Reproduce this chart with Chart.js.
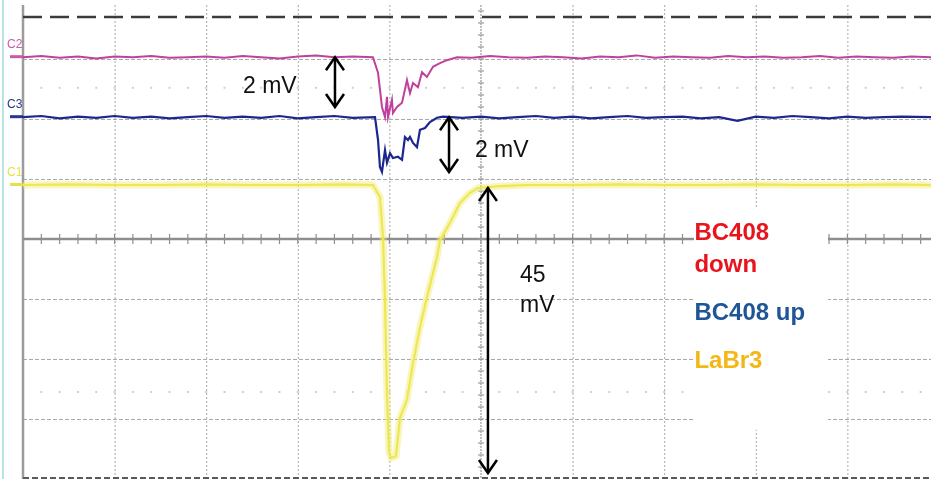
<!DOCTYPE html>
<html>
<head>
<meta charset="utf-8">
<script src="https://cdn.jsdelivr.net/npm/chart.js@4.4.0/dist/chart.umd.min.js"></script>
<style>
  html, body { margin: 0; padding: 0; background: #fff; overflow: hidden; }
  #wrap { width: 931px; height: 479px; position: relative; }
</style>
</head>
<body>
<div id="wrap"><canvas id="scope" width="931" height="479"></canvas></div>
<script>
// Values in screen divisions: x = time div (0..10), y = vertical div (centre = 0)

// C2 - BC408 down (magenta)
const c2Time = [0, 0.2, 0.4, 0.6, 0.8, 1.0, 1.2, 1.4, 1.6, 1.8, 2.0, 2.2, 2.4, 2.6, 2.8, 3.0, 3.2, 3.4, 3.6, 3.82,
  3.876, 3.919, 3.952, 3.974, 3.985, 4.028, 4.039, 4.083, 4.138, 4.192, 4.225, 4.258, 4.312, 4.356, 4.41, 4.476, 4.552, 4.629, 4.738,
  4.9, 5.1, 5.3, 5.5, 5.7, 5.9, 6.1, 6.3, 6.5, 6.7, 6.9, 7.1, 7.3, 7.5, 7.7, 7.9, 8.1, 8.3, 8.5, 8.7, 8.9, 9.1, 9.3, 9.5, 9.7, 9.92];
const c2Volt = [3.03, 3.05, 3.02, 3.04, 3.01, 3.04, 3.03, 3.05, 3.02, 3.03, 3.04, 3.02, 3.05, 3.03, 3.01, 3.04, 3.06, 3.03, 3.04, 3.03,
  2.77, 2.2, 2.03, 2.37, 2.03, 2.32, 2.1, 2.2, 2.27, 2.65, 2.43, 2.6, 2.53, 2.78, 2.7, 2.87, 2.93, 2.98, 3.03,
  3.02, 3.05, 3.03, 3.02, 3.04, 3.03, 3.01, 3.04, 3.03, 3.06, 3.02, 3.04, 3.03, 3.02, 3.05, 3.03, 3.04, 3.02, 3.03, 3.05, 3.02, 3.04, 3.03, 3.02, 3.04, 3.03];

// C3 - BC408 up (blue)
const c3Time = [0, 0.2, 0.4, 0.6, 0.8, 1.0, 1.2, 1.4, 1.6, 1.8, 2.0, 2.2, 2.4, 2.6, 2.8, 3.0, 3.2, 3.4, 3.6, 3.843,
  3.876, 3.897, 3.919, 3.952, 3.974, 4.007, 4.039, 4.094, 4.138, 4.17, 4.203, 4.225, 4.258, 4.301, 4.334, 4.389, 4.443, 4.52, 4.585,
  4.8, 5.0, 5.2, 5.4, 5.6, 5.8, 6.0, 6.2, 6.4, 6.6, 6.8, 7.0, 7.2, 7.4, 7.6, 7.8, 8.0, 8.2, 8.4, 8.6, 8.8, 9.0, 9.2, 9.4, 9.6, 9.92];
const c3Volt = [2.03, 2.05, 2.01, 2.04, 2.02, 2.05, 2.02, 2.04, 2.01, 2.03, 2.05, 2.02, 2.04, 2.02, 2.05, 2.01, 2.03, 2.05, 2.02, 2.03,
  1.65, 1.2, 1.12, 1.48, 1.27, 1.43, 1.35, 1.37, 1.32, 1.7, 1.65, 1.7, 1.6, 1.53, 1.82, 1.85, 1.95, 2.02, 2.04,
  2.02, 2.04, 2.01, 2.03, 2.05, 2.02, 2.04, 2.01, 2.03, 2.05, 2.02, 2.03, 2.04, 2.01, 2.03, 1.97, 2.04, 2.02, 2.05, 2.03, 2.01, 2.04, 2.02, 2.03, 2.04, 2.03];

// C1 - LaBr3 (yellow)
const c1Time = [0, 0.5, 1.0, 1.5, 2.0, 2.5, 3.0, 3.5, 3.82,
  3.897, 3.93, 3.952, 3.974, 3.996, 4.018, 4.072, 4.116, 4.192, 4.258, 4.334, 4.41, 4.52, 4.552, 4.662, 4.771, 4.88, 4.967,
  5.207, 5.5, 6.0, 6.5, 7.0, 7.5, 8.0, 8.5, 9.0, 9.5, 9.92];
const c1Volt = [0.9, 0.91, 0.9, 0.9, 0.91, 0.9, 0.9, 0.91, 0.9,
  0.7, 0.03, -1.0, -2.6, -3.55, -3.65, -3.62, -2.98, -2.68, -2.07, -1.47, -0.97, -0.3, -0.02, 0.27, 0.6, 0.77, 0.85,
  0.88, 0.9, 0.9, 0.91, 0.9, 0.9, 0.91, 0.9, 0.9, 0.91, 0.9];

// trigger level marker (dashed line at the top)
const trigTime = [0, 9.92];
const trigVolt = [3.7, 3.7];

const channelLabels = ["C2", "C3", "C1"];
const channelLevels = [3.03, 2.03, 0.9];
const channelColors = ["#c85aa8", "#2a3590", "#e6e04a"];

const legendLines = ["BC408", "down", "BC408 up", "LaBr3"];
const legendColors = ["#e8141c", "#e8141c", "#1f5596", "#f2b817"];

const pts = (xs, ys) => xs.map((x, i) => ({ x: x, y: ys[i] }));

// grid, centre lines and the white box behind the labels
const gridPlugin = {
  id: "scopeGrid",
  beforeDatasetsDraw(chart) {
    const { ctx, chartArea, scales } = chart;
    const X = v => scales.x.getPixelForValue(v);
    const Y = v => scales.y.getPixelForValue(v);
    ctx.save();

    // light border on the far left
    ctx.strokeStyle = "#b8e2e8";
    ctx.lineWidth = 2;
    ctx.beginPath(); ctx.moveTo(3, 0); ctx.lineTo(3, chart.height); ctx.stroke();

    // vertical dotted grid
    ctx.strokeStyle = "#a8a8a8";
    ctx.lineWidth = 1;
    ctx.setLineDash([2, 2]);
    for (let i = 1; i <= 9; i++) {
      if (i === 5) continue;
      ctx.beginPath(); ctx.moveTo(X(i) + 0.5, Y(3.9)); ctx.lineTo(X(i) + 0.5, chartArea.bottom); ctx.stroke();
    }
    // horizontal dashed grid
    ctx.setLineDash([4, 2]);
    for (const j of [-3, -2, -1, 1, 2, 3]) {
      ctx.beginPath(); ctx.moveTo(chartArea.left, Y(j) + 0.5); ctx.lineTo(chartArea.right, Y(j) + 0.5); ctx.stroke();
    }
    // faint dot rows
    ctx.setLineDash([]);
    ctx.fillStyle = "#cfcfcf";
    for (const j of [2.52, -2.55]) {
      for (let t = 0.2; t < 9.95; t += 0.2) {
        ctx.fillRect(X(t) - 1, Y(j) - 1, 2, 2);
      }
    }

    // left solid edge
    ctx.strokeStyle = "#9c9c9c";
    ctx.lineWidth = 2.5;
    ctx.beginPath(); ctx.moveTo(chartArea.left, Y(3.9)); ctx.lineTo(chartArea.left, chartArea.bottom); ctx.stroke();

    // centre horizontal axis with ticks
    ctx.strokeStyle = "#8e8e8e";
    ctx.lineWidth = 2.5;
    ctx.beginPath(); ctx.moveTo(chartArea.left, Y(0)); ctx.lineTo(chartArea.right, Y(0)); ctx.stroke();
    ctx.lineWidth = 1.2;
    for (let t = 0.2; t < 9.95; t += 0.2) {
      ctx.beginPath(); ctx.moveTo(X(t), Y(0) - 5); ctx.lineTo(X(t), Y(0) + 5); ctx.stroke();
    }
    // centre vertical axis with ticks
    ctx.strokeStyle = "#9a9a9a";
    ctx.lineWidth = 1.2;
    ctx.setLineDash([2, 1]);
    ctx.beginPath(); ctx.moveTo(X(5), Y(3.9)); ctx.lineTo(X(5), chartArea.bottom); ctx.stroke();
    ctx.setLineDash([]);
    for (let v = -3.8; v < 3.9; v += 0.2) {
      ctx.beginPath(); ctx.moveTo(X(5) - 3, Y(v)); ctx.lineTo(X(5) + 3, Y(v)); ctx.stroke();
    }

    // bottom edge
    ctx.strokeStyle = "#5a5a5a";
    ctx.lineWidth = 2;
    ctx.setLineDash([6, 3]);
    ctx.beginPath(); ctx.moveTo(chartArea.left, chartArea.bottom - 1); ctx.lineTo(chartArea.right, chartArea.bottom - 1); ctx.stroke();
    ctx.setLineDash([]);

    // white box behind the labels
    ctx.fillStyle = "#ffffff";
    ctx.fillRect(X(7.325), Y(0.53), X(8.788) - X(7.325), Y(-3.18) - Y(0.53));

    ctx.restore();
  }
};

// arrows, amplitude text, channel tags and labels
const notePlugin = {
  id: "scopeNotes",
  afterDatasetsDraw(chart) {
    const { ctx, scales } = chart;
    const X = v => scales.x.getPixelForValue(v);
    const Y = v => scales.y.getPixelForValue(v);
    ctx.save();

    const arrow = (x, y1, y2) => {
      const px = X(x), a = Y(y1), b = Y(y2);
      ctx.strokeStyle = "#000";
      ctx.lineWidth = 2.5;
      ctx.lineJoin = "miter";
      ctx.beginPath(); ctx.moveTo(px, a); ctx.lineTo(px, b); ctx.stroke();
      ctx.beginPath(); ctx.moveTo(px - 9, a + 13); ctx.lineTo(px, a); ctx.lineTo(px + 9, a + 13); ctx.stroke();
      ctx.beginPath(); ctx.moveTo(px - 9, b - 13); ctx.lineTo(px, b); ctx.lineTo(px + 9, b - 13); ctx.stroke();
    };
    arrow(3.406, 3.03, 2.2);
    arrow(4.651, 2.03, 1.117);
    arrow(5.076, 0.85, -3.9);

    ctx.fillStyle = "#111";
    ctx.font = "23px 'Liberation Sans', Arial, sans-serif";
    ctx.textBaseline = "alphabetic";
    ctx.fillText("2 mV", X(2.402), Y(2.433));
    ctx.fillText("2 mV", X(4.934), Y(1.367));
    ctx.fillText("45", X(5.426), Y(-0.717));
    ctx.fillText("mV", X(5.426), Y(-1.217));

    // legend labels
    ctx.font = "bold 24px 'Liberation Sans', Arial, sans-serif";
    const base = [-0.017, -0.55, -1.35, -2.15];
    legendLines.forEach((t, i) => {
      ctx.fillStyle = legendColors[i];
      ctx.fillText(t, X(7.33), Y(base[i]));
    });

    // channel tags on the left
    ctx.font = "12px 'Liberation Sans', Arial, sans-serif";
    channelLabels.forEach((t, i) => {
      const py = Y(channelLevels[i]);
      ctx.fillStyle = channelColors[i];
      ctx.fillText(t, 7, py - 9);
      ctx.fillRect(10, py - 2, 13, 3);
    });

    ctx.restore();
  }
};

new Chart(document.getElementById("scope"), {
  type: "line",
  data: {
    datasets: [
      { data: pts(trigTime, trigVolt), borderColor: "#3c3c3c", borderWidth: 2.5, borderDash: [19, 8] },
      { data: pts(c1Time, c1Volt), borderColor: "rgba(240,236,110,0.45)", borderWidth: 7 },
      { data: pts(c1Time, c1Volt), borderColor: "#ece53a", borderWidth: 2.2 },
      { data: pts(c2Time, c2Volt), borderColor: "#c2409d", borderWidth: 2 },
      { data: pts(c3Time, c3Volt), borderColor: "#1c268e", borderWidth: 2.2 }
    ]
  },
  options: {
    responsive: false,
    animation: false,
    parsing: true,
    layout: { padding: { left: 23, top: 0, right: 0, bottom: 0 } },
    elements: { point: { radius: 0 }, line: { tension: 0 } },
    plugins: { legend: { display: false }, tooltip: { enabled: false } },
    scales: {
      x: { type: "linear", min: 0, max: 9.913, display: false },
      y: { type: "linear", min: -4, max: 3.983, display: false }
    }
  },
  plugins: [gridPlugin, notePlugin]
});
</script>
</body>
</html>
